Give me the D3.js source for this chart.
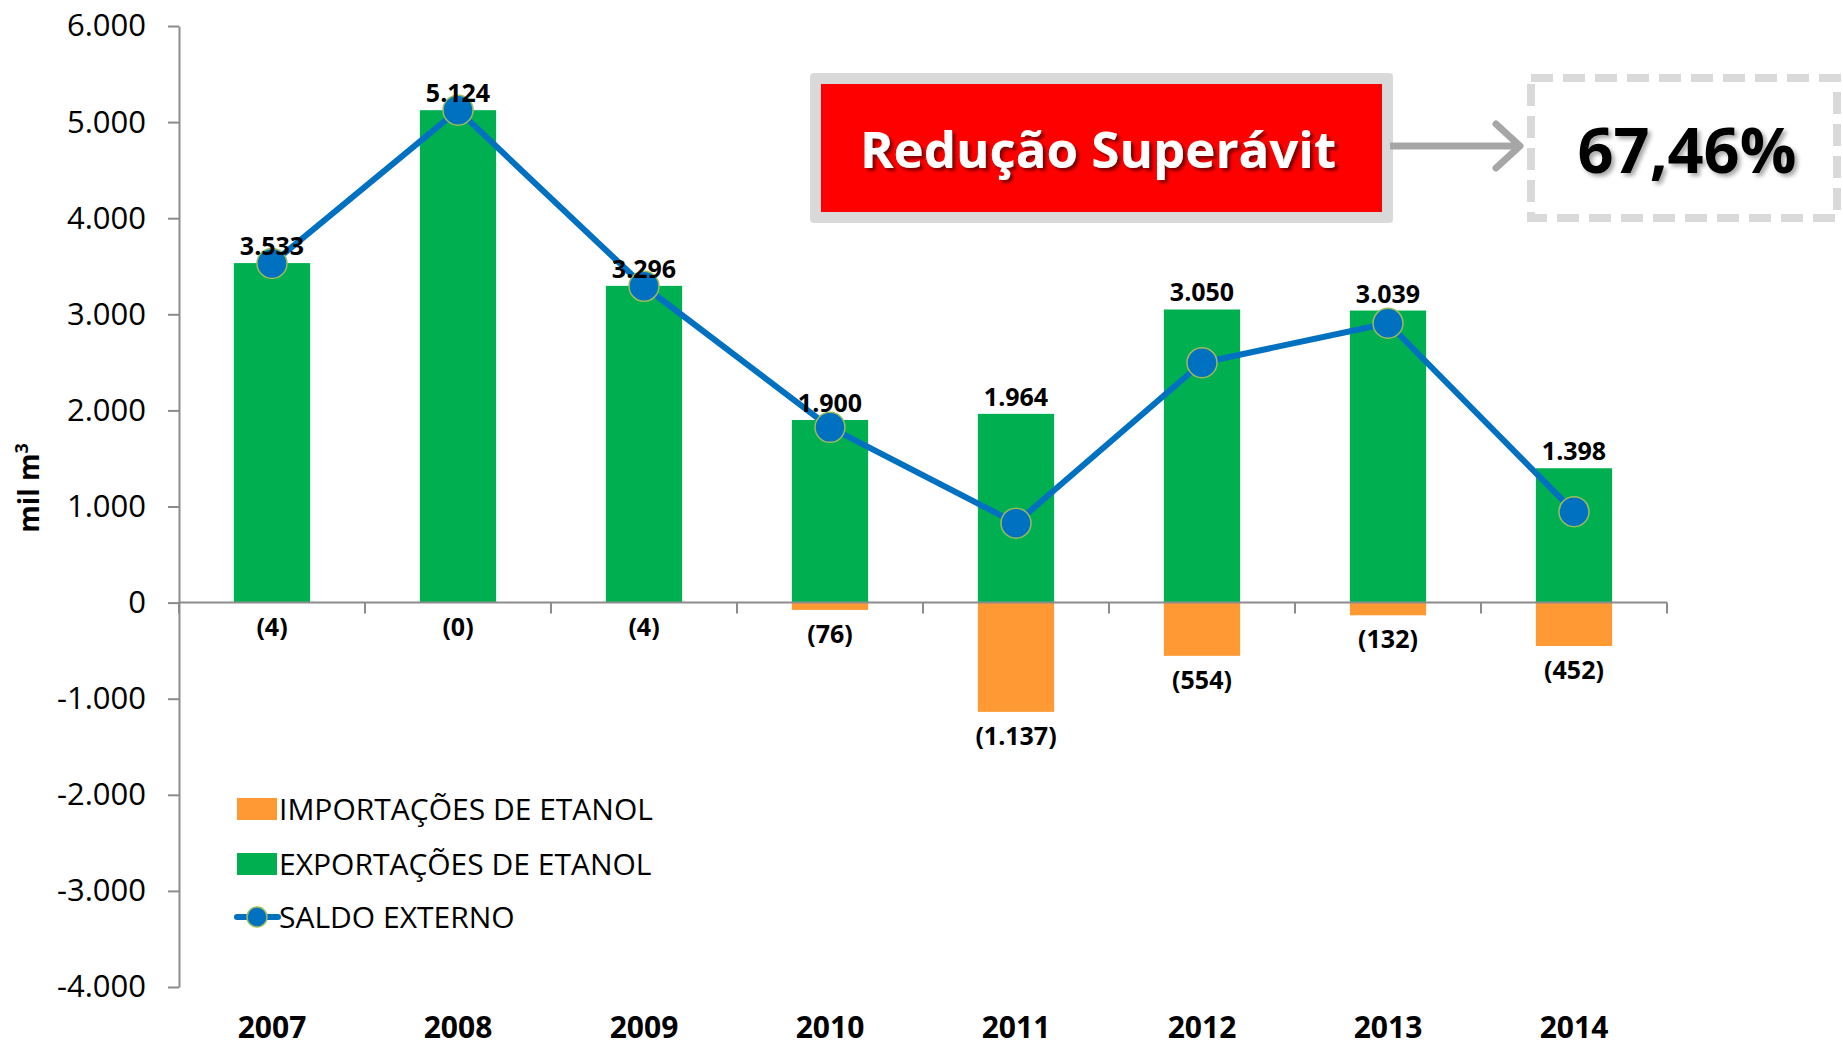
<!DOCTYPE html>
<html>
<head>
<meta charset="utf-8">
<script src="https://cdn.jsdelivr.net/npm/d3@7"></script>
<style>
  body { margin: 0; background: #fff; }
  svg { display: block; font-family: "Open Sans", "Noto Sans", sans-serif; }
</style>
</head>
<body>
<div class="chart"></div>
<script>
// data (mil m3)
var years = ["2007", "2008", "2009", "2010", "2011", "2012", "2013", "2014"];
var exportacoes = [3533, 5124, 3296, 1900, 1964, 3050, 3039, 1398];
var importacoes = [-4, 0, -4, -76, -1137, -554, -132, -452];
var saldo = [3529, 5124, 3292, 1824, 827, 2496, 2907, 946];
var yTicks = [-4000, -3000, -2000, -1000, 0, 1000, 2000, 3000, 4000, 5000, 6000];
var legendItems = ["IMPORTAÇÕES DE ETANOL", "EXPORTAÇÕES DE ETANOL", "SALDO EXTERNO"];

var width = 1843, height = 1049;
var green = "#00B050", orange = "#FF9933", blue = "#0070C0", axisGrey = "#8c8c8c";

var br = d3.formatLocale({ decimal: ",", thousands: ".", grouping: [3], currency: ["R$", ""] });
var fmt = br.format(",.0f");

var svg = d3.select(".chart").append("svg")
    .attr("width", width)
    .attr("height", height);

var defs = svg.append("defs");
var sh1 = defs.append("filter").attr("id", "shadowRed")
    .attr("x", "-10%").attr("y", "-20%").attr("width", "130%").attr("height", "150%");
sh1.append("feDropShadow").attr("dx", 3).attr("dy", 3).attr("stdDeviation", 1.5)
    .attr("flood-color", "#600000").attr("flood-opacity", 0.8);
var sh2 = defs.append("filter").attr("id", "shadowGrey")
    .attr("x", "-10%").attr("y", "-20%").attr("width", "130%").attr("height", "150%");
sh2.append("feDropShadow").attr("dx", 3).attr("dy", 3).attr("stdDeviation", 2)
    .attr("flood-color", "#000").attr("flood-opacity", 0.35);

var y = d3.scaleLinear().domain([-4000, 6000]).range([987, 26]);
var x = d3.scaleBand().domain(years).range([179, 1667])
    .paddingInner(0.59).paddingOuter(0.295);

// y axis
var yAxis = svg.append("g")
    .attr("transform", "translate(179,0)")
    .call(d3.axisLeft(y).tickValues(yTicks).tickSize(11).tickSizeOuter(0)
        .tickFormat(function(d){ return fmt(d).replace("−", "-"); }));
yAxis.select(".domain").attr("stroke", axisGrey).attr("stroke-width", 2);
yAxis.selectAll(".tick line").attr("stroke", axisGrey).attr("stroke-width", 2);
yAxis.selectAll(".tick text")
    .attr("x", -33)
    .attr("font-size", "31px")
    .attr("fill", "#000")
    .style("font-family", "'Open Sans', sans-serif");

// y title
svg.append("text")
    .attr("transform", "translate(39,488) rotate(-90)")
    .attr("text-anchor", "middle")
    .attr("font-size", "28px")
    .style("font-weight", "bold")
    .text("mil m")
    .append("tspan").attr("dy", -11).attr("font-size", "18px").text("3");

// bars
svg.selectAll(".exp").data(years).enter().append("rect")
    .attr("class", "exp")
    .attr("x", function(d){ return x(d); })
    .attr("width", x.bandwidth())
    .attr("y", function(d, i){ return y(exportacoes[i]); })
    .attr("height", function(d, i){ return y(0) - y(exportacoes[i]); })
    .style("fill", green);

svg.selectAll(".imp").data(years).enter().append("rect")
    .attr("class", "imp")
    .attr("x", function(d){ return x(d); })
    .attr("width", x.bandwidth())
    .attr("y", y(0))
    .attr("height", function(d, i){ return y(importacoes[i]) - y(0); })
    .style("fill", orange);

// x axis line at zero with category boundary ticks
var gap = (x.step() - x.bandwidth()) / 2;
svg.append("line")
    .attr("x1", 179).attr("x2", 1667)
    .attr("y1", y(0)).attr("y2", y(0))
    .attr("stroke", axisGrey).attr("stroke-width", 2);
var bounds = years.map(function(d){ return x(d) - gap; }).concat([x(years[years.length - 1]) + x.bandwidth() + gap]);
svg.selectAll(".xtick").data(bounds).enter().append("line")
    .attr("class", "xtick")
    .attr("x1", function(d){ return d; }).attr("x2", function(d){ return d; })
    .attr("y1", y(0)).attr("y2", y(0) + 11)
    .attr("stroke", axisGrey).attr("stroke-width", 2);

// year labels
svg.selectAll(".year").data(years).enter().append("text")
    .attr("class", "year")
    .attr("x", function(d){ return x(d) + x.bandwidth() / 2; })
    .attr("y", 1038)
    .attr("text-anchor", "middle")
    .attr("font-size", "30px")
    .style("font-weight", "bold")
    .text(function(d){ return d; });

// saldo line
var line = d3.line()
    .x(function(d, i){ return x(years[i]) + x.bandwidth() / 2; })
    .y(function(d){ return y(d); });

svg.append("path")
    .datum(saldo)
    .attr("d", line)
    .attr("fill", "none")
    .attr("stroke", blue)
    .attr("stroke-width", 6)
    .attr("stroke-linejoin", "round");

svg.selectAll(".dot").data(saldo).enter().append("circle")
    .attr("class", "dot")
    .attr("cx", function(d, i){ return x(years[i]) + x.bandwidth() / 2; })
    .attr("cy", function(d){ return y(d); })
    .attr("r", 15)
    .style("fill", blue)
    .style("stroke", "#9BBB59")
    .style("stroke-width", 1.5);

// export labels
svg.selectAll(".explab").data(exportacoes).enter().append("text")
    .attr("class", "explab")
    .attr("x", function(d, i){ return x(years[i]) + x.bandwidth() / 2; })
    .attr("y", function(d){ return y(d) - 8; })
    .attr("text-anchor", "middle")
    .attr("font-size", "25px")
    .style("font-weight", "bold")
    .text(function(d){ return fmt(d); });

// import labels
svg.selectAll(".implab").data(importacoes).enter().append("text")
    .attr("class", "implab")
    .attr("x", function(d, i){ return x(years[i]) + x.bandwidth() / 2; })
    .attr("y", function(d){ return y(d) + 33; })
    .attr("text-anchor", "middle")
    .attr("font-size", "25px")
    .style("font-weight", "bold")
    .text(function(d){ return "(" + fmt(Math.abs(d)) + ")"; });

// legend
var legend = svg.append("g").attr("transform", "translate(237,0)");
var legY = [809, 864, 917];
legend.append("rect").attr("x", 0).attr("y", legY[0] - 11).attr("width", 40).attr("height", 22).style("fill", orange);
legend.append("rect").attr("x", 0).attr("y", legY[1] - 11).attr("width", 40).attr("height", 22).style("fill", green);
legend.append("line").attr("x1", 0).attr("x2", 41).attr("y1", legY[2]).attr("y2", legY[2])
    .attr("stroke", blue).attr("stroke-width", 6).attr("stroke-linecap", "round");
legend.append("circle").attr("cx", 20).attr("cy", legY[2]).attr("r", 10)
    .style("fill", blue).style("stroke", "#9BBB59").style("stroke-width", 1.5);
legend.selectAll(".legtext").data(legendItems).enter().append("text")
    .attr("class", "legtext")
    .attr("x", 42)
    .attr("y", function(d, i){ return legY[i] + 11; })
    .attr("font-size", "30px")
    .text(function(d){ return d; });

// annotation: Redução Superávit -> 67,46%
svg.append("rect")
    .attr("x", 810).attr("y", 73).attr("width", 583).attr("height", 150)
    .attr("rx", 4)
    .style("fill", "#d9d9d9");
svg.append("rect")
    .attr("x", 821).attr("y", 84).attr("width", 561).attr("height", 128)
    .style("fill", "#ff0000");
svg.append("text")
    .attr("x", 1098).attr("y", 168)
    .attr("text-anchor", "middle")
    .attr("font-size", "51px")
    .style("font-weight", "bold")
    .style("fill", "#fff")
    .attr("filter", "url(#shadowRed)")
    .text("Redução Superávit");

svg.append("line")
    .attr("x1", 1390).attr("x2", 1520).attr("y1", 146).attr("y2", 146)
    .attr("stroke", "#a6a6a6").attr("stroke-width", 7);
svg.append("path")
    .attr("d", "M1496,124 L1520,146 L1496,168")
    .attr("fill", "none")
    .attr("stroke", "#a6a6a6").attr("stroke-width", 7)
    .attr("stroke-linecap", "round").attr("stroke-linejoin", "round");

svg.append("rect")
    .attr("x", 1531).attr("y", 78).attr("width", 306).attr("height", 140)
    .style("fill", "#fff")
    .style("stroke", "#d9d9d9")
    .style("stroke-width", 8)
    .style("stroke-dasharray", "22,10");
svg.append("text")
    .attr("x", 1687).attr("y", 173)
    .attr("text-anchor", "middle")
    .attr("font-size", "63px")
    .style("font-weight", "bold")
    .attr("filter", "url(#shadowGrey)")
    .text("67,46%");
</script>
</body>
</html>
